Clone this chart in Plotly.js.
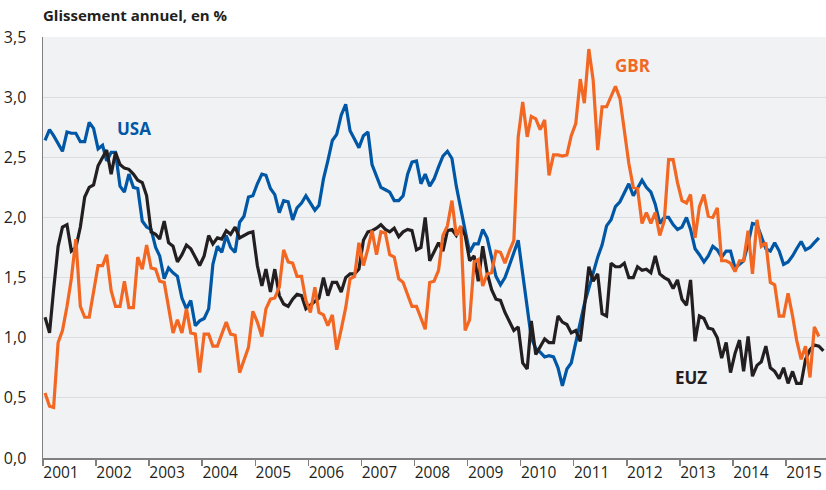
<!DOCTYPE html>
<html>
<head>
<meta charset="utf-8">
<script src="https://cdn.plot.ly/plotly-3.0.1.min.js"></script>
<style>
html,body{margin:0;padding:0;background:#fff;}
#chart{width:826px;height:490px;}
</style>
</head>
<body>
<div id="chart"></div>
<script>
// Monthly series, Jan 2001 onwards (year-on-year change, %)
const startYear = 2001;
const seriesNames = ["USA", "GBR", "EUZ"];

const usa = [
  2.64, 2.73, 2.68, 2.62, 2.55, 2.71, 2.70, 2.70, 2.63, 2.63, 2.79, 2.74,
  2.57, 2.60, 2.47, 2.54, 2.54, 2.26, 2.21, 2.36, 2.25, 2.24, 1.97, 1.92,
  1.90, 1.75, 1.68, 1.49, 1.58, 1.54, 1.51, 1.33, 1.24, 1.31, 1.10, 1.14,
  1.16, 1.24, 1.61, 1.76, 1.71, 1.85, 1.75, 1.71, 1.96, 2.01, 2.17, 2.18,
  2.28, 2.36, 2.35, 2.24, 2.19, 2.04, 2.14, 2.13, 1.98, 2.08, 2.12, 2.18,
  2.12, 2.06, 2.10, 2.32, 2.47, 2.64, 2.69, 2.85, 2.94, 2.72, 2.65,
  2.58, 2.68, 2.71, 2.44, 2.35, 2.25, 2.23, 2.21, 2.14, 2.14, 2.18, 2.36,
  2.46, 2.47, 2.28, 2.36, 2.26, 2.32, 2.42, 2.51, 2.55, 2.49, 2.26, 2.06,
  1.89, 1.71, 1.78, 1.78, 1.90, 1.83, 1.68, 1.51, 1.44, 1.50, 1.60,
  1.70, 1.81, 1.53, 1.25, 1.00, 0.91, 0.88, 0.84, 0.85, 0.84, 0.75, 0.60,
  0.74, 0.79, 0.96, 1.10, 1.28, 1.41, 1.54, 1.67, 1.77, 1.93, 1.98, 2.09,
  2.13, 2.20, 2.28, 2.18, 2.25, 2.31, 2.25, 2.21, 2.11, 1.95, 2.00,
  2.00, 1.94, 1.90, 1.92, 2.00, 1.90, 1.74, 1.69, 1.63, 1.68, 1.76, 1.73,
  1.67, 1.72, 1.72, 1.58, 1.61, 1.64, 1.78, 1.95, 1.94, 1.85, 1.74, 1.72,
  1.79, 1.72, 1.61, 1.63, 1.68, 1.74, 1.80, 1.73, 1.75, 1.79, 1.83
];

const gbr = [
  0.54, 0.43, 0.42, 0.96, 1.06, 1.26, 1.49, 1.82, 1.26, 1.17, 1.17, 1.37,
  1.60, 1.60, 1.69, 1.39, 1.26, 1.26, 1.47, 1.25, 1.25, 1.67, 1.57, 1.77,
  1.58, 1.57, 1.47, 1.46, 1.24, 1.04, 1.15, 1.04, 1.24, 1.04, 1.03, 0.71,
  1.03, 1.03, 0.93, 0.93, 1.03, 1.13, 1.03, 1.02, 0.71, 0.82, 0.92, 1.22,
  1.13, 1.01, 1.24, 1.32, 1.33, 1.42, 1.73, 1.63, 1.62, 1.51, 1.51, 1.31,
  1.21, 1.42, 1.21, 1.19, 1.10, 1.19, 0.90, 1.07, 1.25, 1.49, 1.51,
  1.79, 1.60, 1.74, 1.89, 1.69, 1.88, 1.87, 1.69, 1.67, 1.49, 1.46, 1.36,
  1.26, 1.26, 1.17, 1.07, 1.46, 1.47, 1.56, 1.85, 1.93, 2.14, 1.85, 1.93,
  1.06, 1.15, 1.63, 1.65, 1.43, 1.53, 1.54, 1.72, 1.71, 1.62, 1.72,
  1.81, 2.67, 2.96, 2.67, 2.84, 2.82, 2.73, 2.81, 2.35, 2.52, 2.52, 2.51,
  2.52, 2.68, 2.78, 3.15, 2.95, 3.40, 3.14, 2.56, 2.92, 2.92, 3.00, 3.09,
  2.99, 2.72, 2.45, 2.25, 2.24, 1.95, 2.04, 1.95, 2.04, 1.85, 1.97,
  2.48, 2.48, 2.29, 2.14, 2.12, 2.19, 1.83, 2.09, 2.19, 2.01, 2.00, 2.08,
  1.64, 1.64, 1.62, 1.55, 1.64, 1.64, 1.89, 1.53, 1.98, 1.76, 1.79, 1.46,
  1.44, 1.18, 1.18, 1.37, 1.18, 0.98, 0.82, 0.93, 0.67, 1.09, 1.01
];

const euz = [
  1.17, 1.04, 1.40, 1.76, 1.92, 1.94, 1.72, 1.75, 1.92, 2.17, 2.25, 2.27,
  2.43, 2.50, 2.56, 2.36, 2.54, 2.44, 2.41, 2.40, 2.36, 2.31, 2.29, 2.18,
  1.88, 1.86, 1.82, 1.97, 1.79, 1.76, 1.63, 1.69, 1.77, 1.74, 1.67, 1.60,
  1.68, 1.85, 1.78, 1.83, 1.82, 1.89, 1.86, 1.92, 1.83, 1.85, 1.87, 1.88,
  1.60, 1.43, 1.57, 1.38, 1.57, 1.35, 1.28, 1.26, 1.32, 1.36, 1.35, 1.24,
  1.27, 1.30, 1.33, 1.50, 1.35, 1.46, 1.46, 1.38, 1.50, 1.53, 1.53,
  1.57, 1.81, 1.88, 1.89, 1.91, 1.94, 1.90, 1.88, 1.91, 1.84, 1.88, 1.90,
  1.89, 1.73, 1.75, 2.00, 1.64, 1.72, 1.79, 1.72, 1.89, 1.90, 1.85, 1.92,
  1.85, 1.64, 1.68, 1.47, 1.76, 1.54, 1.40, 1.32, 1.31, 1.21, 1.14,
  1.06, 1.09, 0.79, 0.74, 1.14, 0.86, 0.93, 0.99, 0.96, 0.96, 1.18, 1.13,
  1.11, 1.04, 1.06, 0.97, 1.25, 1.59, 1.47, 1.53, 1.20, 1.18, 1.62, 1.59,
  1.59, 1.62, 1.50, 1.50, 1.59, 1.56, 1.57, 1.54, 1.68, 1.53, 1.50,
  1.48, 1.41, 1.48, 1.32, 1.27, 1.48, 0.97, 1.18, 1.16, 1.08, 1.07, 1.00,
  0.83, 0.96, 0.71, 0.87, 0.98, 0.72, 1.01, 0.68, 0.77, 0.80, 0.93, 0.75,
  0.72, 0.66, 0.75, 0.62, 0.72, 0.62, 0.62, 0.82, 0.90, 0.94, 0.93, 0.89
];

const yTicks = [0, 0.5, 1, 1.5, 2, 2.5, 3, 3.5];

function monthDates(n) {
  const out = [];
  for (let i = 0; i < n; i++) {
    const y = startYear + Math.floor(i / 12);
    const m = (i % 12) + 1;
    out.push(y + "-" + (m < 10 ? "0" + m : m) + "-15");
  }
  return out;
}

const colors = {USA: "#0057a5", GBR: "#f26722", EUZ: "#231f20"};
const dataMap = {USA: usa, GBR: gbr, EUZ: euz};
const order = ["USA", "EUZ", "GBR"];

const traces = order.map(name => ({
  type: "scatter",
  mode: "lines",
  name: name,
  x: monthDates(dataMap[name].length),
  y: dataMap[name],
  line: {color: colors[name], width: 3.2},
  hoverinfo: "x+y+name"
}));

const labelFont = {family: "Open Sans, sans-serif", size: 17, weight: 700};

const layout = {
  width: 826,
  height: 490,
  margin: {l: 43, r: 0, t: 37, b: 32},
  paper_bgcolor: "#ffffff",
  plot_bgcolor: "#f1f2f4",
  separators: ", ",
  showlegend: false,
  font: {family: "Open Sans, sans-serif", color: "#231f20"},
  title: {
    text: "<b>Glissement annuel, en %</b>",
    xref: "container", yref: "container",
    x: 43 / 826, xanchor: "left",
    y: 1 - 16 / 490, yanchor: "middle",
    font: {family: "Open Sans, sans-serif", size: 15, color: "#231f20"}
  },
  xaxis: {
    type: "date",
    range: ["2001-01-01", "2015-10-03"],
    tick0: "2001-01-01",
    dtick: "M12",
    tickformat: "%Y",
    ticks: "outside",
    ticklen: 6,
    tickwidth: 1.5,
    tickcolor: "#808080",
    ticklabelshift: 18,
    ticklabelstandoff: -6,
    showgrid: false,
    zeroline: false,
    showline: true,
    linecolor: "#808080",
    linewidth: 1.5,
    tickfont: {size: 15.5, color: "#231f20"},
    fixedrange: true
  },
  yaxis: {
    range: [0, 3.5],
    tickvals: yTicks,
    tickformat: ".1f",
    ticks: "",
    ticklabelstandoff: 12,
    showgrid: true,
    gridcolor: "#dcdde0",
    gridwidth: 1.2,
    zeroline: false,
    showline: true,
    linecolor: "#808080",
    linewidth: 1.5,
    tickfont: {size: 16, color: "#231f20"},
    fixedrange: true
  },
  annotations: [
    {text: "<b>USA</b>", x: "2002-09-20", y: 2.74, xref: "x", yref: "y",
     showarrow: false, font: Object.assign({}, labelFont, {color: colors.USA})},
    {text: "<b>GBR</b>", x: "2012-02-10", y: 3.26, xref: "x", yref: "y",
     showarrow: false, font: Object.assign({}, labelFont, {color: colors.GBR})},
    {text: "<b>EUZ</b>", x: "2013-03-15", y: 0.67, xref: "x", yref: "y",
     showarrow: false, font: Object.assign({}, labelFont, {color: colors.EUZ})}
  ]
};

Plotly.newPlot("chart", traces, layout, {displayModeBar: false, staticPlot: true});
</script>
</body>
</html>
